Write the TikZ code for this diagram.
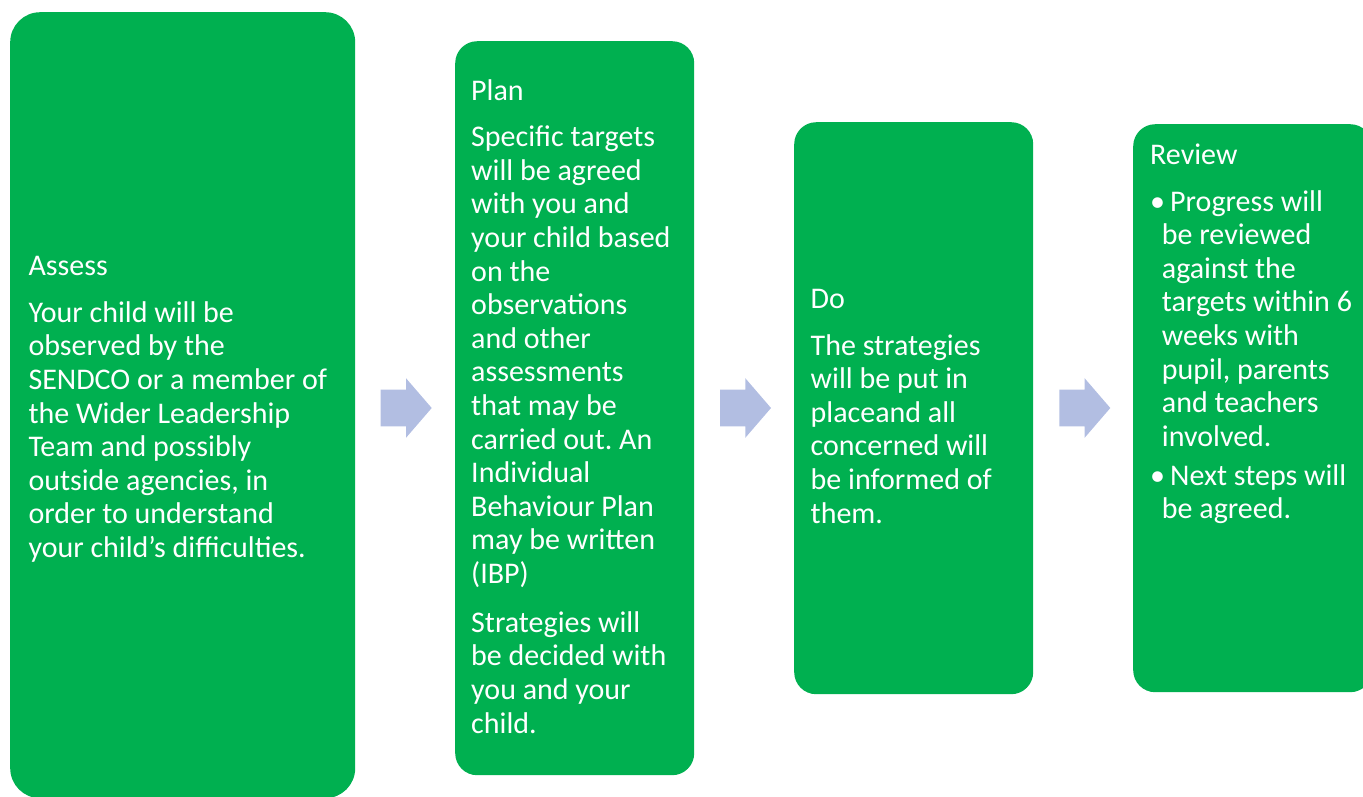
\documentclass[tikz,border=0pt]{standalone}
\usepackage{fontspec}
\setmainfont{Carlito}
\usetikzlibrary{positioning}
\definecolor{boxgreen}{RGB}{0,176,80}
\definecolor{arrowfill}{RGB}{178,190,226}
\newcommand\boxfont{\fontsize{30}{33.6}\selectfont\frenchspacing}
\newcommand\ind{\hspace*{11.7pt}}
\newcommand\bul{\makebox[20pt][l]{\textbullet}}
\tikzset{
  greenbox/.style={fill=boxgreen, draw=none, anchor=north west, inner sep=0pt},
  boxtext/.style={anchor=base west, inner sep=0pt, text=white, font=\boxfont},
  blockarrow/.pic={\fill[arrowfill] (0,-18.3) -- (25.3,-18.3) -- (25.3,-29.8) -- (51,0) -- (25.3,29.8) -- (25.3,18.3) -- (0,18.3) -- cycle;}
}
\begin{document}
\begin{tikzpicture}[x=1pt,y=-1pt]
\useasboundingbox (0,0) rectangle (1363,796);
% boxes
\node[greenbox, rounded corners=30pt, minimum width=345pt, minimum height=786pt] (assess) at (10,12) {};
\node[greenbox, rounded corners=22pt, minimum width=239pt, minimum height=734pt] (plan) at (455,41) {};
\node[greenbox, rounded corners=22pt, minimum width=239pt, minimum height=572pt] (do) at (794,122) {};
\node[greenbox, rounded corners=22pt, minimum width=239pt, minimum height=568pt] (review) at (1133,124) {};
% arrows
\pic at (380.7,408) {blockarrow};
\pic at (720,408) {blockarrow};
\pic at (1059.3,408) {blockarrow};
% texts
\node[boxtext] (assesstxt) at (28.3,275.7) {\parbox[t]{330pt}{\raggedright
Assess\\[13pt]
Your child will be\\
observed by the\\
SENDCO or a member of\\
the Wider Leadership\\
Team and possibly\\
outside agencies, in\\
order to understand\\
your child’s difficulties.}};
\node[boxtext] (plantxt) at (471,100) {\parbox[t]{230pt}{\raggedright
Plan\\[13.1pt]
Specific targets\\
will be agreed\\
with you and\\
your child based\\
on the\\
observations\\
and other\\
assessments\\
that may be\\
carried out. An\\
Individual\\
Behaviour Plan\\
may be written\\
(IBP)\\[15.2pt]
Strategies will\\
be decided with\\
you and your\\
child.}};
\node[boxtext] (dotxt) at (810.5,308.5) {\parbox[t]{230pt}{\raggedright
Do\\[13pt]
The strategies\\
will be put in\\
placeand all\\
concerned will\\
be informed of\\
them.}};
\node[boxtext] (reviewtxt) at (1150,164) {\parbox[t]{230pt}{\raggedright
Review\\[13.4pt]
\bul Progress will\\
\ind be reviewed\\
\ind against the\\
\ind targets within 6\\
\ind weeks with\\
\ind pupil, parents\\
\ind and teachers\\
\ind involved.\\[5.2pt]
\bul Next steps will\\
\ind be agreed.}};
\end{tikzpicture}
\end{document}
